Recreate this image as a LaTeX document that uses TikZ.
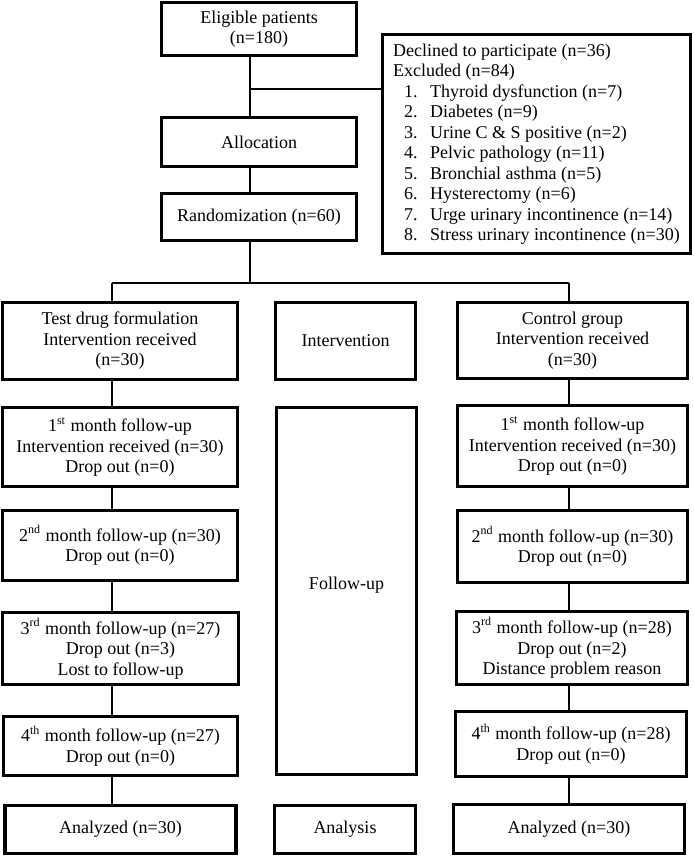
\documentclass[tikz,border=0pt]{standalone}
\usepackage{fontspec}
\setmainfont{Liberation Serif}
\tikzset{
  flowbox/.style 2 args={draw, line width=1.8pt, align=center, inner sep=2pt,
    minimum width=#1*0.5pt, minimum height=#2*0.5pt,
    font=\fontsize{9}{10.25}\selectfont},
  link/.style={line width=1.4pt}
}
\newcommand{\exitem}[2]{\hspace*{5.5pt}\makebox[13pt][l]{#1.}#2}

\begin{document}
\begin{tikzpicture}[x=0.5pt, y=-0.5pt]
  \useasboundingbox (0,0) rectangle (694,857);
  % enrolment
  \node[flowbox={195}{53}] (elig) at (259,29) {Eligible patients\\(n=180)};
  \node[flowbox={308}{219}, align=left] (excl) at (536.5,144) {%
    Declined to participate (n=36)\\
    Excluded (n=84)\\
    \exitem{1}{Thyroid dysfunction (n=7)}\\
    \exitem{2}{Diabetes (n=9)}\\
    \exitem{3}{Urine C \& S positive (n=2)}\\
    \exitem{4}{Pelvic pathology (n=11)}\\
    \exitem{5}{Bronchial asthma (n=5)}\\
    \exitem{6}{Hysterectomy (n=6)}\\
    \exitem{7}{Urge urinary incontinence (n=14)}\\
    \exitem{8}{Stress urinary incontinence (n=30)}};
  \node[flowbox={195}{49}] (alloc) at (259,142) {Allocation};
  \node[flowbox={195}{47}] (rand) at (259,217) {Randomization (n=60)};
  \coordinate (join) at (250,89);
  \coordinate (split) at (250,283);
  \coordinate (lcol) at (112,283);
  \coordinate (rcol) at (569,283);
  % left arm
  \node[flowbox={235}{77}] (ltest) at (120,341) {Test drug formulation\\Intervention received\\(n=30)};
  \node[flowbox={235}{79}] (lm1) at (120,447) {1\textsuperscript{st} month follow-up\\Intervention received (n=30)\\Drop out (n=0)};
  \node[flowbox={235}{70}] (lm2) at (120,545.5) {2\textsuperscript{nd} month follow-up (n=30)\\Drop out (n=0)};
  \node[flowbox={236}{72}] (lm3) at (120.5,648.5) {3\textsuperscript{rd} month follow-up (n=27)\\Drop out (n=3)\\Lost to follow-up};
  \node[flowbox={234}{59}] (lm4) at (120.5,746) {4\textsuperscript{th} month follow-up (n=27)\\Drop out (n=0)};
  \node[flowbox={231}{48}] (lana) at (120.5,829.5) {Analyzed (n=30)};
  % middle column
  \node[flowbox={140}{77}] (mint) at (345.5,341) {Intervention};
  \node[flowbox={140}{367}, text depth=8pt] (mfol) at (346.5,591) {Follow-up};
  \node[flowbox={141}{48}] (mana) at (345,829.5) {Analysis};
  % right arm
  \node[flowbox={230}{76}] (rctrl) at (572.5,340.5) {Control group\\Intervention received\\(n=30)};
  \node[flowbox={230}{81}] (rm1) at (572.5,446) {1\textsuperscript{st} month follow-up\\Intervention received (n=30)\\Drop out (n=0)};
  \node[flowbox={230}{72}] (rm2) at (572.5,546.5) {2\textsuperscript{nd} month follow-up (n=30)\\Drop out (n=0)};
  \node[flowbox={231}{73}] (rm3) at (572,648) {3\textsuperscript{rd} month follow-up (n=28)\\Drop out (n=2)\\Distance problem reason};
  \node[flowbox={231}{65}] (rm4) at (571,744) {4\textsuperscript{th} month follow-up (n=28)\\Drop out (n=0)};
  \node[flowbox={231}{49}] (rana) at (569,829) {Analyzed (n=30)};
  % connectors
  \draw[link] (elig.south -| split) -- (alloc.north -| split);
  \draw[link] (alloc.south -| split) -- (rand.north -| split);
  \draw[link] (rand.south -| split) -- (split);
  \draw[link] (join) -- (join -| excl.west);
  \draw[link] (lcol) -- (rcol);
  \draw[link] (lcol) -- (ltest.north -| lcol);
  \draw[link] (rcol) -- (rctrl.north -| rcol);
  \foreach \from/\to in {ltest/lm1, lm1/lm2, lm2/lm3, lm3/lm4, lm4/lana}
    \draw[link] (\from.south -| lcol) -- (\to.north -| lcol);
  \foreach \from/\to in {rctrl/rm1, rm1/rm2, rm2/rm3, rm3/rm4, rm4/rana}
    \draw[link] (\from.south -| rcol) -- (\to.north -| rcol);
\end{tikzpicture}
\end{document}
